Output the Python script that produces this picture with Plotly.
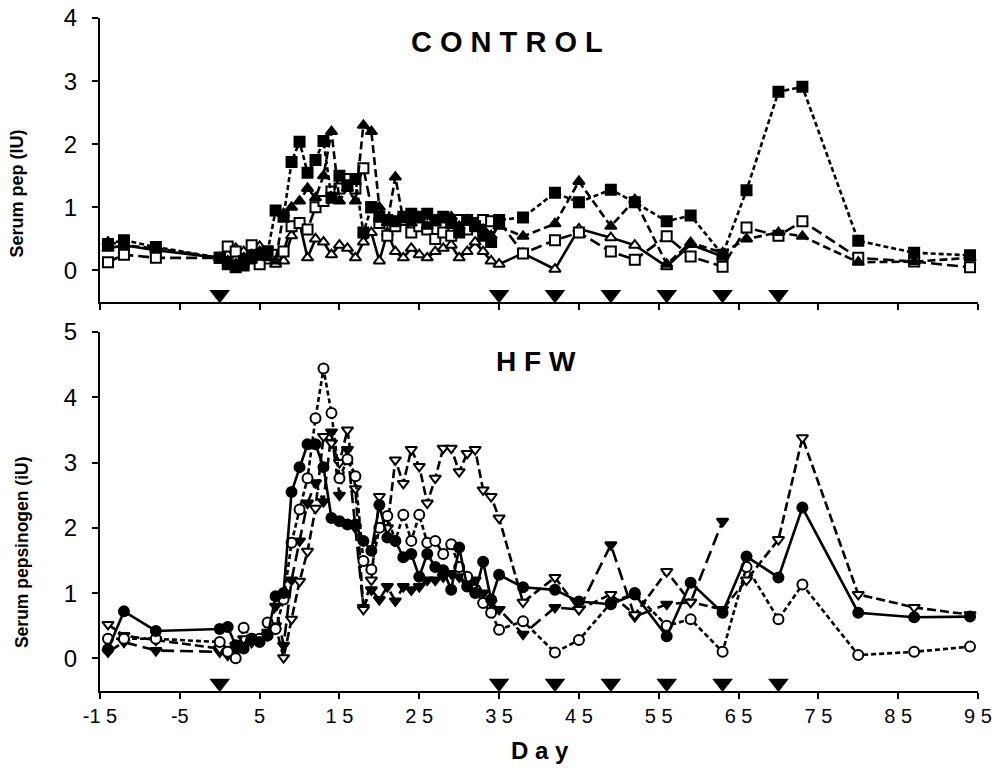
import plotly.graph_objects as go

# ---- sampling days ----
DAYS = [-14, -12, -8,
        0, 1, 2, 3, 4, 5,
        6, 7, 8, 9, 10, 11,
        12, 13, 14, 15, 16, 17,
        18, 19, 20, 21, 22, 23,
        24, 25, 26, 27, 28, 29,
        30, 31, 32, 33, 34, 35,
        38, 42, 45, 49, 52, 56, 59, 63, 66, 70, 73, 80, 87, 94]

TREAT_DAYS = [0, 35, 42, 49, 56, 63, 70]
TREAT_LEVEL = -0.38

X_TICKS = [-15, -5, 5, 15, 25, 35, 45, 55, 65, 75, 85, 95]
X_TICKTEXT = ["-1 5", "-5", "5", "1 5", "2 5", "3 5", "4 5", "5 5", "6 5", "7 5", "8 5", "9 5"]

# ---- CONTROL panel ----
ctrl_filled_sq = [0.42, 0.48, 0.37,
                  0.20, 0.10, 0.05, 0.08, 0.20, 0.25,
                  0.30, 0.95, 0.85, 1.72, 2.04, 1.55,
                  1.75, 2.05, 1.15, 1.50, 1.35, 1.45,
                  0.60, 1.00, 0.85, 0.80, 0.78, 0.85,
                  0.90, 0.85, 0.90, 0.80, 0.85, 0.75,
                  0.60, 0.80, 0.70, 0.55, 0.45, 0.80,
                  0.84, 1.23, 1.08, 1.28, 1.08, 0.78, 0.87, 0.25, 1.27, 2.83, 2.91, 0.47, 0.28, 0.24]

ctrl_filled_tri = [0.45, 0.40, 0.35,
                   0.20, 0.15, 0.10, 0.20, 0.25, 0.30,
                   0.20, 0.15, 0.90, 1.00, 1.10, 1.30,
                   1.15, 1.50, 2.20, 1.10, 1.30, 1.10,
                   2.30, 2.20, 1.00, 0.75, 1.48, 0.80,
                   0.75, 0.80, 0.70, 0.75, 0.80, 0.85,
                   0.70, 0.80, 0.75, 0.65, 0.55, 0.70,
                   0.54, 0.74, 1.41, 0.70, 1.12, 0.10, 0.44, 0.28, 0.50, 0.60, 0.54, 0.13, 0.14, 0.20]

ctrl_open_sq = [0.13, 0.25, 0.20,
                0.20, 0.38, 0.30, 0.15, 0.40, 0.10,
                0.30, 0.25, 0.30, 0.70, 0.75, 0.65,
                1.00, 1.10, 1.25, 1.30, 1.45, 1.30,
                1.62, 1.00, 0.75, 0.55, 0.70, 0.80,
                0.60, 0.70, 0.65, 0.50, 0.60, 0.55,
                0.80, 0.65, 0.75, 0.80, 0.78, 0.78,
                0.27, 0.48, 0.60, 0.30, 0.17, 0.54, 0.22, 0.06, 0.68, 0.55, 0.78, 0.20, 0.14, 0.05]

ctrl_open_tri = [0.35, 0.40, 0.32,
                 0.20, 0.25, 0.35, 0.30, 0.15, 0.38,
                 0.15, 0.10, 0.15, 0.55, 0.75, 0.20,
                 0.50, 0.45, 0.25, 0.40, 0.35, 0.20,
                 0.45, 0.60, 0.15, 0.60, 0.30, 0.20,
                 0.35, 0.25, 0.20, 0.30, 0.35, 0.40,
                 0.20, 0.30, 0.45, 0.30, 0.15, 0.10,
                 0.27, 0.02, 0.66, 0.52, 0.40, 0.06, 0.41, 0.22]

# ---- HFW panel ----
hfw_filled_circ = [0.14, 0.72, 0.42,
                   0.45, 0.48, 0.20, 0.15, 0.30, 0.25,
                   0.35, 0.95, 1.00, 2.55, 2.93, 3.28,
                   3.28, 2.93, 2.15, 2.10, 2.05, 2.05,
                   1.80, 1.65, 2.35, 1.85, 1.80, 1.55,
                   1.60, 1.25, 1.60, 1.40, 1.35, 1.05,
                   1.70, 1.10, 1.00, 1.48, 0.90, 1.28,
                   1.09, 1.05, 0.87, 0.83, 0.98, 0.34, 1.16, 0.70, 1.56, 1.24, 2.31, 0.70, 0.63, 0.64]

hfw_open_circ = [0.30, 0.30, 0.30,
                 0.25, 0.10, 0.00, 0.47, 0.30, 0.30,
                 0.55, 0.45, 0.90, 1.77, 2.28, 2.76,
                 3.68, 4.44, 3.76, 2.76, 3.05, 2.79,
                 1.49, 1.36, 2.00, 2.18, 1.80, 2.20,
                 1.80, 2.20, 1.77, 1.80, 1.60, 1.75,
                 1.40, 1.25, 1.05, 0.85, 0.70, 0.44,
                 0.57, 0.09, 0.28, 0.85, 1.00, 0.50, 0.60, 0.10, 1.40, 0.60, 1.13, 0.05, 0.10, 0.18]

hfw_open_tri = [0.52, 0.35, 0.28,
                0.15, 0.10, 0.20, 0.30, 0.25, 0.30,
                0.35, 0.50, 0.01, 0.60, 1.18, 1.64,
                2.30, 3.40, 3.30, 3.00, 3.50, 2.60,
                0.75, 1.20, 2.48, 2.00, 3.04, 2.68,
                3.20, 2.94, 2.38, 2.76, 3.22, 3.22,
                2.86, 3.14, 3.20, 2.58, 2.48, 2.15,
                0.86, 1.24, 0.75, 0.98, 0.67, 1.33, 0.86, 0.75, 1.20, 1.82, 3.38, 0.98, 0.78, 0.67]

hfw_filled_tri = [0.10, 0.25, 0.12,
                  0.10, 0.05, 0.10, 0.20, 0.25, 0.30,
                  0.40, 0.80, 0.20, 1.20, 1.80, 2.38,
                  2.69, 2.40, 3.47, 2.50, 3.20, 2.00,
                  0.78, 1.05, 0.90, 1.10, 0.88, 1.10,
                  1.05, 1.10, 1.20, 1.20, 1.25, 1.30,
                  1.25, 1.15, 1.20, 1.00, 0.85, 0.75,
                  0.37, 0.78, 0.75, 1.74, 0.64, 0.83, 0.86, 2.10]

FONT = "Liberation Sans, Arial, sans-serif"
BLACK = "black"

fig = go.Figure()


def add_series(vals, symbol, filled, dash, xa, ya):
    d = DAYS[:len(vals)]
    fig.add_trace(go.Scatter(
        x=d, y=vals, mode="lines+markers", xaxis=xa, yaxis=ya,
        line=dict(color=BLACK, width=2.6, dash=dash),
        marker=dict(symbol=symbol, size=10,
                    color=BLACK if filled else "white",
                    line=dict(color=BLACK, width=2)),
        showlegend=False, hoverinfo="x+y"))


# CONTROL
add_series(ctrl_open_tri, "triangle-up", False, "solid", "x", "y")
add_series(ctrl_open_sq, "square", False, "11px,5px", "x", "y")
add_series(ctrl_filled_tri, "triangle-up", True, "8px,4px", "x", "y")
add_series(ctrl_filled_sq, "square", True, "5px,3px", "x", "y")

# HFW
add_series(hfw_filled_tri, "triangle-down", True, "13px,6px", "x2", "y2")
add_series(hfw_open_tri, "triangle-down", False, "9px,4px", "x2", "y2")
add_series(hfw_open_circ, "circle", False, "5px,3px", "x2", "y2")
add_series(hfw_filled_circ, "circle", True, "solid", "x2", "y2")

# treatment markers
for xa, ya in (("x", "y"), ("x2", "y2")):
    fig.add_trace(go.Scatter(
        x=TREAT_DAYS, y=[TREAT_LEVEL] * len(TREAT_DAYS), mode="markers",
        xaxis=xa, yaxis=ya,
        marker=dict(symbol="triangle-down", size=18, color=BLACK),
        showlegend=False, hoverinfo="x"))

axis_common = dict(showline=True, linecolor=BLACK, linewidth=2.2, showgrid=False,
                   zeroline=False, ticks="outside", tickcolor=BLACK, tickwidth=1.5,
                   automargin=False, ticklabeloverflow="allow")

fig.update_layout(
    width=999, height=768,
    margin=dict(l=100, r=21, t=18, b=77),
    paper_bgcolor="white", plot_bgcolor="white",
    font=dict(family=FONT, color=BLACK),
    xaxis=dict(domain=[0, 1], range=[-15, 95], anchor="y",
               tickvals=X_TICKS, showticklabels=False, ticklen=6, **axis_common),
    yaxis=dict(domain=[0.578, 1.0], range=[-0.5, 4], anchor="x",
               tickvals=[0, 1, 2, 3, 4], ticklen=6, ticklabelstandoff=10,
               tickfont=dict(size=24), **axis_common),
    xaxis2=dict(domain=[0, 1], range=[-15, 95], anchor="y2",
                tickvals=X_TICKS, ticktext=X_TICKTEXT, ticklen=6,
                tickfont=dict(size=20), **axis_common),
    yaxis2=dict(domain=[0, 0.5334], range=[-0.5, 5], anchor="x2",
                tickvals=[0, 1, 2, 3, 4, 5], ticklen=6, ticklabelstandoff=10,
                tickfont=dict(size=24), **axis_common),
    annotations=[
        dict(text="<b>C O N T R O L</b>", x=0.4636, y=0.964, xref="paper", yref="paper",
             xanchor="center", yanchor="middle",
             showarrow=False, font=dict(size=29, family=FONT)),
        dict(text="<b>H F W</b>", x=0.4966, y=0.489, xref="paper", yref="paper",
             xanchor="center", yanchor="middle",
             showarrow=False, font=dict(size=28, family=FONT)),
        dict(text="<b>Serum pep (IU)</b>", x=-0.0951, y=0.7385, xref="paper", yref="paper",
             xanchor="center", yanchor="middle",
             showarrow=False, textangle=-90, font=dict(size=18, family=FONT)),
        dict(text="<b>Serum pepsinogen (iU)</b>", x=-0.0888, y=0.2065, xref="paper", yref="paper",
             xanchor="center", yanchor="middle",
             showarrow=False, textangle=-90, font=dict(size=17.5, family=FONT)),
        dict(text="<b>D a y</b>", x=0.501, y=-0.088, xref="paper", yref="paper",
             xanchor="center", yanchor="middle",
             showarrow=False, font=dict(size=24, family=FONT)),
    ],
)

fig.write_html("out.html", config={"displayModeBar": False},
               post_script="document.body.style.margin='0px';")
